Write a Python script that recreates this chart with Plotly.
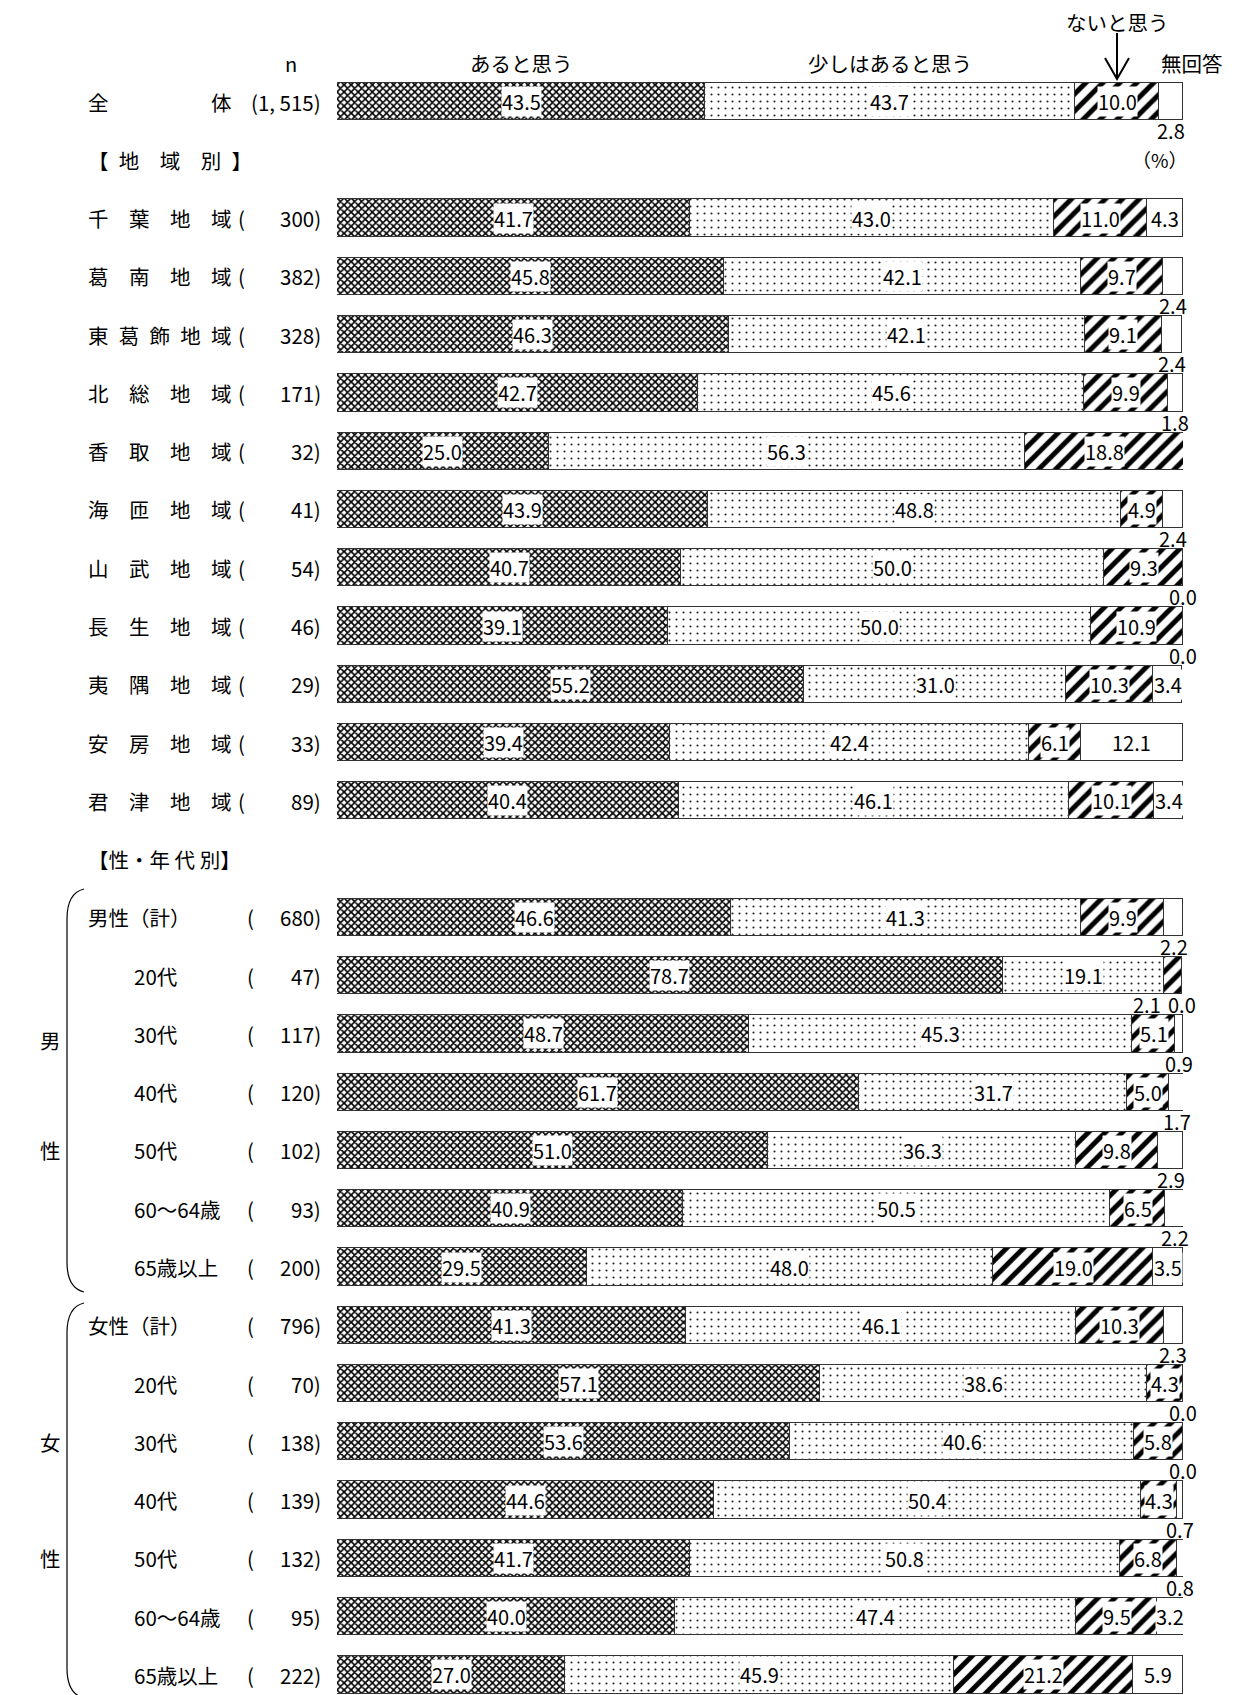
import plotly.graph_objects as go

# ---------------------------------------------------------------------------
# Data
# ---------------------------------------------------------------------------
row_labels = [
    "全　　　　　体",
    "千　葉　地　域", "葛　南　地　域", "東\u2002葛\u2002飾\u2002地\u2002域", "北　総　地　域",
    "香　取　地　域", "海　匝　地　域", "山　武　地　域", "長　生　地　域",
    "夷　隅　地　域", "安　房　地　域", "君　津　地　域",
    "男性（計）", "20代", "30代", "40代", "50代", "60～64歳", "65歳以上",
    "女性（計）", "20代", "30代", "40代", "50代", "60～64歳", "65歳以上",
]
sample_n = [
    "1, 515",
    "300", "382", "328", "171", "32", "41", "54", "46", "29", "33", "89",
    "680", "47", "117", "120", "102", "93", "200",
    "796", "70", "138", "139", "132", "95", "222",
]
# row slot on the vertical axis (gaps hold the section headings)
row_slots = [0] + list(range(2, 13)) + list(range(14, 28))
# label style: 0 = total, 1 = region, 2 = gender total, 3 = age sub-group
row_kind = [0] + [1] * 11 + [2, 3, 3, 3, 3, 3, 3] + [2, 3, 3, 3, 3, 3, 3]

series_names = ["あると思う", "少しはあると思う", "ないと思う", "無回答"]
aru = [43.5, 41.7, 45.8, 46.3, 42.7, 25.0, 43.9, 40.7, 39.1, 55.2, 39.4, 40.4,
       46.6, 78.7, 48.7, 61.7, 51.0, 40.9, 29.5,
       41.3, 57.1, 53.6, 44.6, 41.7, 40.0, 27.0]
sukoshi = [43.7, 43.0, 42.1, 42.1, 45.6, 56.3, 48.8, 50.0, 50.0, 31.0, 42.4, 46.1,
           41.3, 19.1, 45.3, 31.7, 36.3, 50.5, 48.0,
           46.1, 38.6, 40.6, 50.4, 50.8, 47.4, 45.9]
nai = [10.0, 11.0, 9.7, 9.1, 9.9, 18.8, 4.9, 9.3, 10.9, 10.3, 6.1, 10.1,
       9.9, 2.1, 5.1, 5.0, 9.8, 6.5, 19.0,
       10.3, 4.3, 5.8, 4.3, 6.8, 9.5, 21.2]
mukaito = [2.8, 4.3, 2.4, 2.4, 1.8, 0.0, 2.4, 0.0, 0.0, 3.4, 12.1, 3.4,
           2.2, 0.0, 0.9, 1.7, 2.9, 2.2, 3.5,
           2.3, 0.0, 0.0, 0.7, 0.8, 3.2, 5.9]

series_values = [aru, sukoshi, nai, mukaito]

# ---------------------------------------------------------------------------
# Geometry (pixels of the page)
# ---------------------------------------------------------------------------
W, H = 1237, 1695
X0, X1 = 337, 1183          # extent of the 0-100 % scale
Y_FIRST = 101.6             # centre of the first row
PITCH = 58.27               # distance between row slots


def slot_at(py_):
    return (py_ - Y_FIRST) / PITCH


def px(x):
    return x / W


def py(y):
    return 1 - y / H


NUM_FONT = "Noto Sans CJK JP, sans-serif"
JP_FONT = "Noto Sans CJK JP, sans-serif"
BLACK = "#000000"

patterns = [
    dict(shape="x", fgcolor=BLACK, bgcolor="#ffffff", size=5, solidity=0.55, fillmode="replace"),
    dict(shape=".", fgcolor="#222222", bgcolor="#ffffff", size=7, solidity=0.07, fillmode="replace"),
    dict(shape="/", fgcolor=BLACK, bgcolor="#ffffff", size=12, solidity=0.42, fillmode="replace"),
    None,
]

fig = go.Figure()
for name, vals, pat in zip(series_names, series_values, patterns):
    marker = dict(color="#ffffff", line=dict(color="#333333", width=1))
    if pat:
        marker["pattern"] = pat
    fig.add_trace(go.Bar(
        name=name, x=vals, y=row_slots, orientation="h", width=0.64,
        marker=marker, hoverinfo="skip", showlegend=False,
    ))

annotations = []

# value labels: inside the segment, or just under the bar when it is too thin
for i, s in enumerate(row_slots):
    left = 0.0
    below = []
    for k, vals in enumerate(series_values):
        v = vals[i]
        c = left + v / 2
        if k >= 2 and v < 3:
            below.append((c, v))
        else:
            annotations.append(dict(
                x=c, y=s, xref="x", yref="y", text=f"{v:.1f}", showarrow=False,
                bgcolor="#ffffff", borderpad=0,
                font=dict(family=NUM_FONT, size=20, color=BLACK),
            ))
        left += v
    for j, (c, v) in enumerate(below):
        shift = -26 if (len(below) == 2 and j == 0) else 0
        annotations.append(dict(
            x=c, y=s + 0.5, xref="x", yref="y", text=f"{v:.1f}", showarrow=False,
            xshift=shift, font=dict(family=NUM_FONT, size=20, color=BLACK),
        ))

# row labels and sample sizes
label_x = {0: 86, 1: 86, 2: 86, 3: 132}
paren_x = {1: 236, 2: 245, 3: 245}
for label, n, s, kind in zip(row_labels, sample_n, row_slots, row_kind):
    annotations.append(dict(
        x=px(label_x[kind]), y=s, xref="paper", yref="y", text=label,
        xanchor="left", showarrow=False,
        font=dict(family=JP_FONT, size=20.5, color=BLACK),
    ))
    if kind == 0:
        n_text = f"({n})"
    else:
        n_text = f"{n})"
        annotations.append(dict(
            x=px(paren_x[kind]), y=s, xref="paper", yref="y", text="(", xanchor="left",
            showarrow=False, font=dict(family=NUM_FONT, size=20.5, color=BLACK),
        ))
    annotations.append(dict(
        x=px(323), y=s, xref="paper", yref="y", text=n_text, xanchor="right",
        showarrow=False, font=dict(family=NUM_FONT, size=20.5, color=BLACK),
    ))

# section headings
for text, s in [("【\u2002地　域　別\u2002】", 1), ("【性・年 代 別】", 13)]:
    annotations.append(dict(
        x=px(86), y=s, xref="paper", yref="y", text=text, xanchor="left",
        showarrow=False, font=dict(family=JP_FONT, size=20.5, color=BLACK),
    ))
annotations.append(dict(
    x=px(1190), y=1, xref="paper", yref="y", text="（%）", xanchor="right",
    showarrow=False, font=dict(family=JP_FONT, size=19, color=BLACK),
))

# gender group captions
for text, s in [("男", 16.1), ("性", 18), ("女", 23), ("性", 25)]:
    annotations.append(dict(
        x=px(38), y=s, xref="paper", yref="y", text=text, showarrow=False,
        font=dict(family=JP_FONT, size=20.5, color=BLACK),
    ))

# series headings above the first bar
cum = 0.0
seg_start, seg_mid = [], []
for vals in series_values:
    seg_start.append(cum)
    seg_mid.append(cum + vals[0] / 2)
    cum += vals[0]
head_y = slot_at(63)
annotations.append(dict(
    x=px(283), y=head_y, xref="paper", yref="y", text="n", showarrow=False,
    font=dict(family=JP_FONT, size=20, color=BLACK),
))
for k in (0, 1):
    annotations.append(dict(
        x=seg_mid[k], y=head_y, xref="x", yref="y", text=series_names[k], showarrow=False,
        font=dict(family=JP_FONT, size=20.5, color=BLACK),
    ))
annotations.append(dict(
    x=seg_mid[2], y=slot_at(22), xref="x", yref="y", text=series_names[2], showarrow=False,
    font=dict(family=JP_FONT, size=20.5, color=BLACK),
))
annotations.append(dict(
    x=seg_start[3], y=head_y, xref="x", yref="y", text=series_names[3], showarrow=False,
    xanchor="left", font=dict(family=JP_FONT, size=20.5, color=BLACK),
))

# arrow from 「ないと思う」 down to its segment
ax_px = X0 + (X1 - X0) * seg_mid[2] / 100
shapes = [
    dict(type="line", xref="paper", yref="paper", x0=px(ax_px), x1=px(ax_px),
         y0=py(33), y1=py(79), line=dict(color=BLACK, width=2)),
    dict(type="path", xref="paper", yref="paper",
         path=f"M {px(ax_px - 12)},{py(58)} L {px(ax_px)},{py(79)} L {px(ax_px + 12)},{py(58)}",
         line=dict(color=BLACK, width=2)),
]


# braces grouping the male / female rows
def brace(top, bottom):
    xl, xr = px(67), px(84)
    return (f"M {xr},{py(top)} Q {xl},{py(top + 4)} {xl},{py(top + 30)} "
            f"L {xl},{py(bottom - 30)} Q {xl},{py(bottom - 4)} {xr},{py(bottom)}")


shapes.append(dict(type="path", xref="paper", yref="paper", path=brace(889, 1292),
                   line=dict(color=BLACK, width=1.2)))
shapes.append(dict(type="path", xref="paper", yref="paper", path=brace(1303, 1698),
                   line=dict(color=BLACK, width=1.2)))

fig.update_layout(
    width=W, height=H, autosize=False,
    margin=dict(l=0, r=0, t=0, b=0),
    paper_bgcolor="#ffffff", plot_bgcolor="#ffffff",
    barmode="stack", bargap=0,
    xaxis=dict(domain=[X0 / W, X1 / W], range=[0, 100], visible=False, fixedrange=True),
    yaxis=dict(domain=[0, 1], range=[slot_at(H), slot_at(0)], visible=False, fixedrange=True),
    annotations=annotations, shapes=shapes,
    hovermode=False,
)

fig.write_html("out.html")
